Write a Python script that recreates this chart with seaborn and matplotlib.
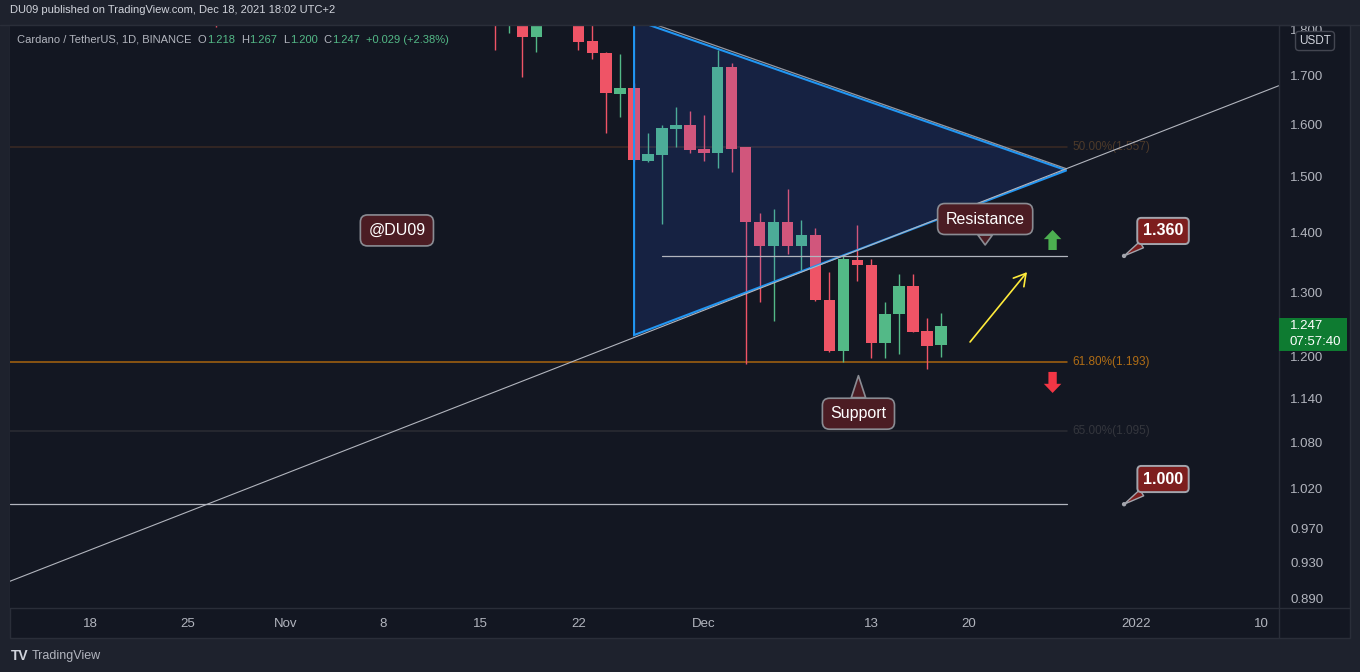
from __future__ import annotations

import matplotlib

matplotlib.use("Agg")
import matplotlib.dates as mdates
import matplotlib.pyplot as plt
import numpy as np
import pandas as pd
import seaborn as sns
from matplotlib.lines import Line2D
from matplotlib.patches import Rectangle
from matplotlib.ticker import NullLocator
from matplotlib.transforms import IdentityTransform

# ADA/USDT 1D candles that show in the window (tops of mid-Nov bars run off the chart)
candle_dates = [
    "2021-10-27", "2021-11-16", "2021-11-17", "2021-11-18", "2021-11-19",
    "2021-11-22", "2021-11-23", "2021-11-24", "2021-11-25", "2021-11-26",
    "2021-11-27", "2021-11-28", "2021-11-29", "2021-11-30", "2021-12-01",
    "2021-12-02", "2021-12-03", "2021-12-04", "2021-12-05", "2021-12-06",
    "2021-12-07", "2021-12-08", "2021-12-09", "2021-12-10", "2021-12-11",
    "2021-12-12", "2021-12-13", "2021-12-14", "2021-12-15", "2021-12-16",
    "2021-12-17", "2021-12-18",
]
opens = [1.950, 1.900, 1.830, 1.860, 1.783, 1.830, 1.775, 1.749, 1.661, 1.674,
         1.529, 1.541, 1.591, 1.600, 1.553, 1.545, 1.718, 1.556, 1.418, 1.377,
         1.419, 1.377, 1.396, 1.288, 1.209, 1.353, 1.345, 1.221, 1.266, 1.310,
         1.239, 1.218]
highs = [2.000, 1.930, 1.920, 1.900, 1.870, 1.870, 1.820, 1.751, 1.746, 1.685,
         1.584, 1.599, 1.635, 1.627, 1.619, 1.756, 1.726, 1.557, 1.434, 1.441,
         1.478, 1.422, 1.408, 1.333, 1.360, 1.413, 1.354, 1.284, 1.330, 1.330,
         1.259, 1.267]
lows = [1.805, 1.756, 1.793, 1.698, 1.751, 1.755, 1.736, 1.584, 1.616, 1.529,
        1.528, 1.415, 1.556, 1.544, 1.529, 1.517, 1.508, 1.189, 1.284, 1.255,
        1.364, 1.337, 1.286, 1.207, 1.192, 1.319, 1.199, 1.199, 1.204, 1.238,
        1.182, 1.200]
closes = [1.880, 1.830, 1.860, 1.783, 1.840, 1.773, 1.749, 1.663, 1.674, 1.531,
          1.542, 1.593, 1.599, 1.551, 1.545, 1.718, 1.553, 1.418, 1.377, 1.419,
          1.377, 1.396, 1.288, 1.209, 1.354, 1.344, 1.221, 1.266, 1.310, 1.238,
          1.217, 1.247]

price_ticks = [1.800, 1.700, 1.600, 1.500, 1.400, 1.300, 1.200, 1.140, 1.080,
               1.020, 0.970, 0.930, 0.890]
date_ticks = ["2021-10-18", "2021-10-25", "2021-11-01", "2021-11-08", "2021-11-15",
              "2021-11-22", "2021-12-01", "2021-12-13", "2021-12-20", "2022-01-01",
              "2022-01-10"]
date_labels = ["18", "25", "Nov", "8", "15", "22", "Dec", "13", "20", "2022", "10"]

# drawings on the chart
triangle_dates = ["2021-11-26", "2021-12-27", "2021-11-26"]
triangle_prices = [1.822, 1.512, 1.233]
falling_dates = ["2021-11-26", "2021-12-27"]
falling_prices = [1.828, 1.515]
rising_dates = ["2021-10-12", "2022-01-12"]
rising_prices = [0.9074, 1.688]
resistance_dates = ["2021-11-28", "2021-12-27"]
resistance_level = 1.360
support_level = 1.000
fib_levels = [1.557, 1.193, 1.095]
fib_labels = ["50.00%(1.557)", "61.80%(1.193)", "65.00%(1.095)"]
fib_colors = ["#3b2a24", "#a8640f", "#2b2d34"]
fib_text_colors = ["#4d3a2a", "#b06d15", "#34363d"]

UP, DOWN = "#53b987", "#ef5466"
BG, PANEL, GRID = "#1e222d", "#131722", "#2a2e39"
TXT, AXT = "#d1d4dc", "#b2b5be"

sns.set_theme(style="dark", rc={
    "figure.facecolor": BG,
    "axes.facecolor": PANEL,
    "axes.edgecolor": PANEL,
    "text.color": TXT,
    "xtick.color": AXT,
    "ytick.color": AXT,
})
plt.rcParams["font.family"] = ["Liberation Sans", "DejaVu Sans"]

W, H = 1360, 672
fig = plt.figure(figsize=(W / 100, H / 100), dpi=100)


def fxy(x, y):
    return x / W, 1 - y / H


def dn(s):
    return mdates.date2num(pd.Timestamp(s))


# chart panel + separators of the price / time scales
fig.add_artist(Rectangle(fxy(10, 638), 1340 / W, 613 / H, fc=PANEL, ec=GRID, lw=1, zorder=-1))
fig.add_artist(Line2D([1279 / W] * 2, [fxy(0, 25)[1], fxy(0, 638)[1]], color=GRID, lw=1))
fig.add_artist(Line2D([10 / W, 1350 / W], [fxy(0, 608)[1]] * 2, color=GRID, lw=1))
fig.add_artist(Line2D([0, 1], [fxy(0, 25)[1]] * 2, color=GRID, lw=1))

ax = fig.add_axes([10 / W, 1 - 608 / H, 1269 / W, 583 / H])
ax.set_facecolor(PANEL)
for s in ax.spines.values():
    s.set_visible(False)
ax.grid(False)

df = pd.DataFrame({"date": pd.to_datetime(candle_dates), "open": opens, "high": highs,
                   "low": lows, "close": closes})
x = mdates.date2num(df["date"])
col = np.where(df["close"] >= df["open"], UP, DOWN)
ax.vlines(x, df["low"], df["high"], colors=col, lw=1, zorder=2)
ax.bar(x, (df["close"] - df["open"]).abs(), bottom=df[["open", "close"]].min(axis=1),
       width=0.82, color=col, linewidth=0, zorder=2.1)

# triangle (fill sits over the candles like the TradingView drawing)
tx = [dn(d) for d in triangle_dates]
ax.fill(tx, triangle_prices, color="#2962ff", alpha=0.15, lw=0, zorder=3)
ax.plot(tx + [tx[0]], triangle_prices + [triangle_prices[0]], color="#2196f3", lw=1.5,
        zorder=4, solid_joinstyle="miter")
ax.plot([dn(d) for d in falling_dates], falling_prices, color="#9598a1", lw=0.9, zorder=4.1)
ax.plot([dn(d) for d in rising_dates], rising_prices, color="#b2b5be", lw=0.8, zorder=4.1)

x_end = dn("2021-12-27")
x_left = dn("2021-10-18") - 5.735
x_right = dn("2021-10-18") + 85.23
for lvl, lab, c, tc in zip(fib_levels, fib_labels, fib_colors, fib_text_colors):
    ax.plot([x_left, x_end], [lvl, lvl], color=c, lw=1.1, zorder=1.5)
    ax.annotate(lab, xy=(x_end, lvl), xytext=(4, 0), textcoords="offset points",
                fontsize=8.5, color=tc, va="center", ha="left")
ax.plot([dn(d) for d in resistance_dates], [resistance_level] * 2, color="#b2b5be",
        lw=0.9, zorder=4.2)
ax.plot([x_left, x_end], [support_level] * 2, color="#b2b5be", lw=0.9, zorder=4.2)

ax.set_yscale("log")
ax.set_ylim(0.8794, 1.8102)
ax.set_xlim(x_left, x_right)
ax.yaxis.set_minor_locator(NullLocator())
ax.set_yticks(price_ticks)
ax.set_yticklabels([f"{v:.3f}" for v in price_ticks])
ax.yaxis.tick_right()
ax.tick_params(axis="y", length=0, pad=8, labelsize=9.5, labelcolor=AXT)
ax.set_xticks([dn(d) for d in date_ticks])
ax.set_xticklabels(date_labels)
ax.tick_params(axis="x", length=0, pad=7, labelsize=9.5, labelcolor=AXT)
ax.set_xlabel("")
ax.set_ylabel("")

# text notes
NOTE_FC, NOTE_EC = "#4b1c23", "#8a8c93"
note_kw = dict(fontsize=11.5, color="white", ha="center", va="center", zorder=8)
ax.text(dn("2021-11-09"), 1.4036, "@DU09",
        bbox=dict(boxstyle="round,pad=0.5,rounding_size=0.45", fc=NOTE_FC, ec=NOTE_EC, lw=1.2),
        **note_kw)
for txt, box_xy, pt_xy in [
    ("Resistance", ("2021-12-21 04:00", 1.4236), ("2021-12-21 04:00", 1.3786)),
    ("Support", ("2021-12-12 02:00", 1.1186), ("2021-12-12 02:00", 1.1726)),
]:
    ax.annotate(txt, xy=(dn(pt_xy[0]), pt_xy[1]), xytext=(dn(box_xy[0]), box_xy[1]),
                bbox=dict(boxstyle="round,pad=0.5,rounding_size=0.45", fc=NOTE_FC, ec=NOTE_EC, lw=1.2),
                arrowprops=dict(arrowstyle="wedge,tail_width=0.9,shrink_factor=0.5", fc=NOTE_FC,
                                ec=NOTE_EC, lw=1.2, shrinkA=0, shrinkB=0),
                **note_kw)

# price callouts
CALL_FC = "#7d1e1e"
call_pts = []
for lvl, box_p in [(resistance_level, 1.4027), (support_level, 1.0317)]:
    pt = (dn("2021-12-31 03:00"), lvl)
    call_pts.append(pt)
    ax.annotate(f"{lvl:.3f}", xy=pt, xytext=(dn("2022-01-02 22:00"), box_p),
                fontsize=11.5, weight="bold", color="white", ha="center", va="center", zorder=8,
                bbox=dict(boxstyle="round,pad=0.35,rounding_size=0.25", fc=CALL_FC, ec="#a3a5ad", lw=1.4),
                arrowprops=dict(arrowstyle="wedge,tail_width=0.45,shrink_factor=0.5", fc=CALL_FC,
                                ec="#a3a5ad", lw=1.0, shrinkA=0, shrinkB=0))
sns.scatterplot(x=[p[0] for p in call_pts], y=[p[1] for p in call_pts], ax=ax, s=10,
                color="#a3a5ad", edgecolor="none", zorder=9, legend=False)

# direction arrows
ax.annotate("", xy=(dn("2021-12-26"), 1.4044), xytext=(dn("2021-12-26"), 1.370),
            arrowprops=dict(arrowstyle="simple,head_length=0.55,head_width=1.05,tail_width=0.5",
                            fc="#4caf50", ec="none", mutation_scale=12, shrinkA=0, shrinkB=0))
ax.annotate("", xy=(dn("2021-12-26"), 1.1477), xytext=(dn("2021-12-26"), 1.178),
            arrowprops=dict(arrowstyle="simple,head_length=0.55,head_width=1.05,tail_width=0.5",
                            fc="#f23645", ec="none", mutation_scale=12, shrinkA=0, shrinkB=0))
ax.annotate("", xy=(dn("2021-12-24 04:00"), 1.333), xytext=(dn("2021-12-20 02:00"), 1.2225),
            arrowprops=dict(arrowstyle="->,head_length=0.6,head_width=0.35", color="#ffeb3b",
                            lw=1.2, mutation_scale=14, shrinkA=0, shrinkB=0))

# last price tag on the scale
_, y_last = ax.transData.transform((x_right, closes[-1]))
fig.add_artist(Rectangle((1279, y_last - 25), 68, 33, transform=IdentityTransform(),
                         fc="#0e7b31", ec="none", zorder=5))
fig.text(1290, y_last, f"{closes[-1]:.3f}", transform=IdentityTransform(), color="white",
         fontsize=9.5, va="center", zorder=6)
fig.text(1290, y_last - 16, "07:57:40", transform=IdentityTransform(), color="white",
         fontsize=9.5, va="center", zorder=6)

# header / legend / footer
fig.text(*fxy(10, 10), "DU09 published on TradingView.com, Dec 18, 2021 18:02 UTC+2",
         fontsize=8, color=TXT, va="center")
chg = closes[-1] - opens[-1]
legend_parts = [
    ("Cardano / TetherUS, 1D, BINANCE", AXT, 6),
    ("O", AXT, 0.5), (f"{opens[-1]:.3f}", UP, 6),
    ("H", AXT, 0.5), (f"{highs[-1]:.3f}", UP, 6),
    ("L", AXT, 0.5), (f"{lows[-1]:.3f}", UP, 6),
    ("C", AXT, 0.5), (f"{closes[-1]:.3f}", UP, 6),
    (f"+{chg:.3f} (+{chg / opens[-1] * 100:.2f}%)", UP, 0),
]
renderer = fig.canvas.get_renderer()
cur_x = 17
y_leg = H - 40
for txt, c, gap in legend_parts:
    t = fig.text(cur_x, y_leg, txt, transform=IdentityTransform(), fontsize=8, color=c,
                 va="center")
    cur_x = t.get_window_extent(renderer).x1 + gap
fig.text(*fxy(1315, 41), "USDT", fontsize=8.5, color=TXT, ha="center", va="center",
         bbox=dict(boxstyle="round,pad=0.3,rounding_size=0.3", fc=PANEL, ec="#434651", lw=1))
fig.text(*fxy(11, 656), "TV", fontsize=10, weight="bold", color=TXT, va="center")
fig.text(*fxy(32, 656), "TradingView", fontsize=9, color=AXT, va="center")

fig.savefig("out.png", dpi=100, facecolor=BG)
plt.close(fig)
